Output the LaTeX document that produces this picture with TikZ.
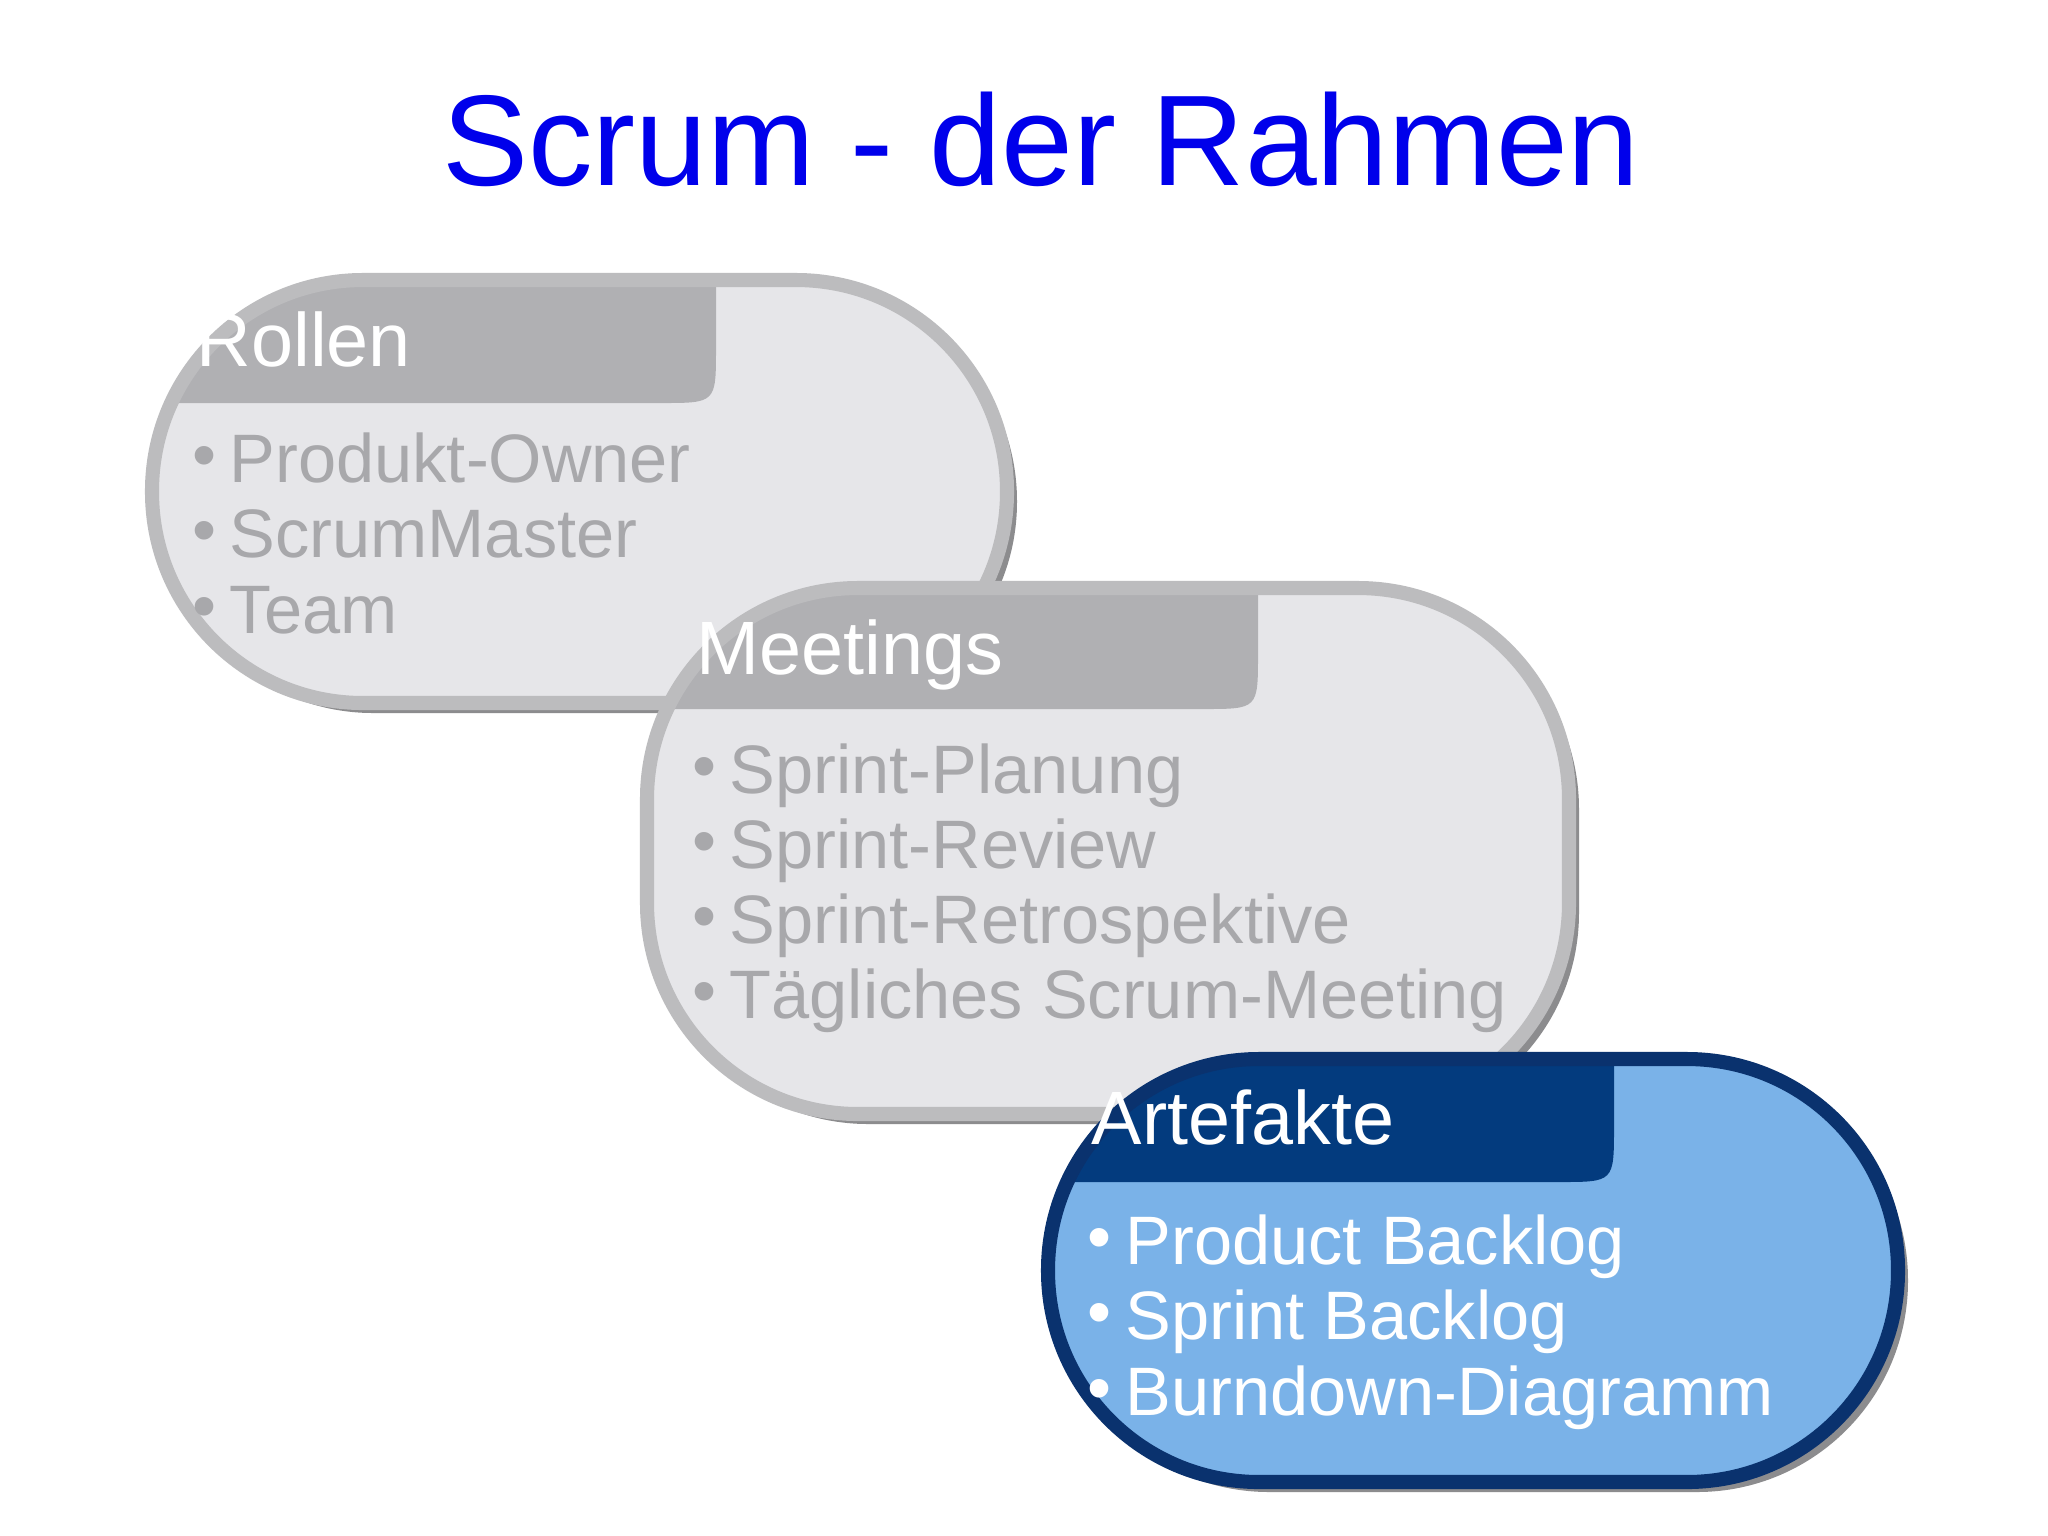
\documentclass[tikz,border=0pt]{standalone}
\usepackage{fontspec}
\setmainfont{Liberation Sans}
\definecolor{titleblue}{RGB}{0,0,235}
\definecolor{gbody}{RGB}{230,230,233}
\definecolor{gtab}{RGB}{176,176,179}
\definecolor{gborder}{RGB}{188,188,190}
\definecolor{gtext}{RGB}{168,168,171}
\definecolor{shadow}{RGB}{140,140,142}
\definecolor{bbody}{RGB}{122,178,232}
\definecolor{btab}{RGB}{3,59,126}
\definecolor{bborder}{RGB}{10,50,110}
\newcommand{\mycard}[9]{%
  % #1 x1 #2 y1 #3 x2 #4 y2 #5 tabx #6 taby #7 body #8 tab #9 border
  \fill[shadow,rounded corners=60] (#1+10,#2+10) rectangle (#3+10,#4+10);
  \fill[#7,rounded corners=60] (#1,#2) rectangle (#3,#4);
  \begin{scope}
    \clip[rounded corners=60] (#1,#2) rectangle (#3,#4);
    \fill[#8] (#1,#2) -- (#5,#2) -- (#5,#6-55) .. controls (#5,#6) .. (#5-55,#6) -- (#1,#6) -- cycle;
  \end{scope}
  \draw[#9,line width=4,rounded corners=60] (#1,#2) rectangle (#3,#4);
}
\begin{document}
\begin{tikzpicture}[x=0.01cm,y=-0.01cm,
  head/.style={anchor=base west,font=\fontsize{21.5}{24}\selectfont,text=white,inner sep=0},
  item/.style={anchor=base west,font=\fontsize{19.5}{22}\selectfont,inner sep=0},
  dot/.style={anchor=base west,font=\fontsize{19.5}{22}\selectfont,inner sep=0}]
\useasboundingbox[fill=white] (0,0) rectangle (2048,1535);
\node[anchor=base,font=\fontsize{36.7}{40}\selectfont,text=titleblue,inner sep=0] (title) at (1041,185) {Scrum - der Rahmen};

\mycard{152}{280}{1007}{703}{716}{403}{gbody}{gtab}{gborder}
\node[head] (h1) at (196,366) {Rollen};
\foreach \t/\y [count=\i] in {Produkt-Owner/482,ScrumMaster/557,Team/633}{
  \node[dot,text=gtext] (d1\i) at (192,\y-4) {•};
  \node[item,text=gtext] (r\i) at (229,\y) {\t};
}

\mycard{647}{588}{1569}{1114}{1258}{709}{gbody}{gtab}{gborder}
\node[head] (h2) at (696,674) {Meetings};
\foreach \t/\y [count=\i] in {Sprint-Planung/793,Sprint-Review/868,Sprint-Retrospektive/943,Tägliches Scrum-Meeting/1018}{
  \node[dot,text=gtext] (d2\i) at (692,\y-4) {•};
  \node[item,text=gtext] (m\i) at (729,\y) {\t};
}

\mycard{1048}{1059}{1898}{1482}{1614}{1182}{bbody}{btab}{bborder}
\node[head] (h3) at (1091,1144) {Artefakte};
\foreach \t/\y [count=\i] in {Product Backlog/1264,Sprint Backlog/1339,Burndown-Diagramm/1415}{
  \node[dot,text=white] (d3\i) at (1087,\y-4) {•};
  \node[item,text=white] (a\i) at (1125,\y) {\t};
}
\end{tikzpicture}
\end{document}
